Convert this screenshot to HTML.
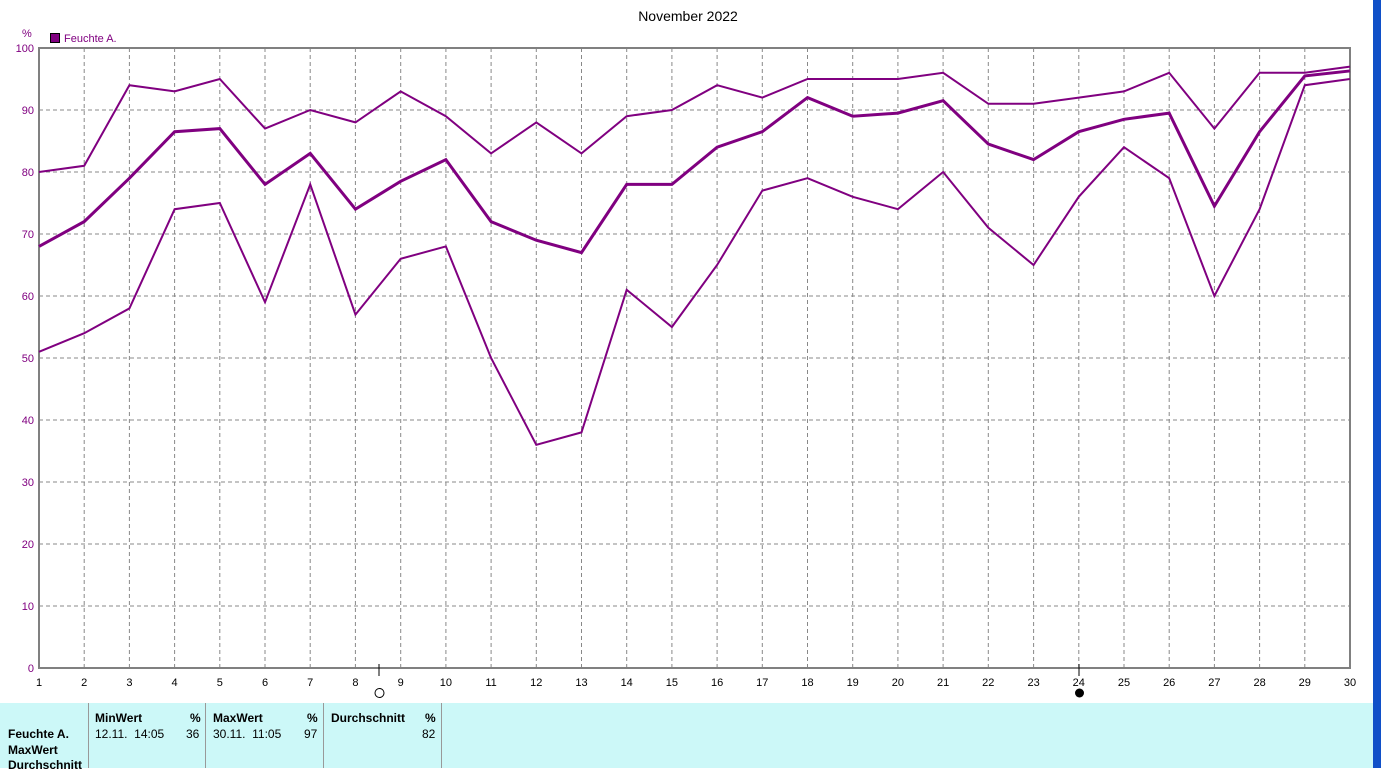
<!DOCTYPE html>
<html><head><style>
body{margin:0;width:1381px;height:768px;background:#fff;overflow:hidden;position:relative;font-family:"Liberation Sans",sans-serif}
.t{position:absolute;font-size:12px;color:#000;white-space:nowrap}
.b{font-weight:bold}
</style></head><body>
<svg width="1381" height="768" style="position:absolute;left:0;top:0" font-family="Liberation Sans" >
<rect x="1373" y="0" width="8" height="768" fill="#1050c8"/>
<text x="688" y="21" font-size="14" text-anchor="middle">November 2022</text>
<text x="22" y="37" font-size="11" fill="#800080">%</text>
<rect x="50.5" y="33.5" width="9" height="9" fill="#800080" stroke="#000"/>
<text x="64" y="42" font-size="11" fill="#800080">Feuchte A.</text>
<g stroke="#888" stroke-dasharray="4,3" stroke-width="1">
<path d="M84.2 48V668M129.4 48V668M174.6 48V668M219.8 48V668M265 48V668M310.2 48V668M355.4 48V668M400.7 48V668M445.9 48V668M491.1 48V668M536.3 48V668M581.5 48V668M626.7 48V668M671.9 48V668M717.1 48V668M762.3 48V668M807.5 48V668M852.7 48V668M897.9 48V668M943.1 48V668M988.3 48V668M1033.6 48V668M1078.8 48V668M1124 48V668M1169.2 48V668M1214.4 48V668M1259.6 48V668M1304.8 48V668"/>
<path d="M39 110H1350M39 172H1350M39 234H1350M39 296H1350M39 358H1350M39 420H1350M39 482H1350M39 544H1350M39 606H1350"/>
</g>
<rect x="39" y="48" width="1311" height="620" fill="none" stroke="#808080" stroke-width="2"/>
<g font-size="11" fill="#800080" text-anchor="end">
<text x="34" y="52">100</text><text x="34" y="114">90</text><text x="34" y="176">80</text><text x="34" y="238">70</text><text x="34" y="300">60</text><text x="34" y="362">50</text><text x="34" y="424">40</text><text x="34" y="486">30</text><text x="34" y="548">20</text><text x="34" y="610">10</text><text x="34" y="672">0</text>
</g>
<g font-size="11" fill="#000" text-anchor="middle">
<text x="39" y="686">1</text><text x="84.2" y="686">2</text><text x="129.4" y="686">3</text><text x="174.6" y="686">4</text><text x="219.8" y="686">5</text><text x="265" y="686">6</text><text x="310.2" y="686">7</text><text x="355.4" y="686">8</text><text x="400.7" y="686">9</text><text x="445.9" y="686">10</text><text x="491.1" y="686">11</text><text x="536.3" y="686">12</text><text x="581.5" y="686">13</text><text x="626.7" y="686">14</text><text x="671.9" y="686">15</text><text x="717.1" y="686">16</text><text x="762.3" y="686">17</text><text x="807.5" y="686">18</text><text x="852.7" y="686">19</text><text x="897.9" y="686">20</text><text x="943.1" y="686">21</text><text x="988.3" y="686">22</text><text x="1033.6" y="686">23</text><text x="1078.8" y="686">24</text><text x="1124" y="686">25</text><text x="1169.2" y="686">26</text><text x="1214.4" y="686">27</text><text x="1259.6" y="686">28</text><text x="1304.8" y="686">29</text><text x="1350" y="686">30</text>
</g>
<path d="M379 664V676M1079 664V676" stroke="#000"/>
<circle cx="379.5" cy="693" r="4.5" fill="none" stroke="#000"/>
<circle cx="1079.5" cy="693" r="4.5" fill="#000"/>
<g transform="translate(39,668) scale(45.207,-6.2)" fill="none" stroke="#800080" vector-effect="non-scaling-stroke">
<polyline vector-effect="non-scaling-stroke" stroke-width="2" points="0,80 1,81 2,94 3,93 4,95 5,87 6,90 7,88 8,93 9,89 10,83 11,88 12,83 13,89 14,90 15,94 16,92 17,95 18,95 19,95 20,96 21,91 22,91 23,92 24,93 25,96 26,87 27,96 28,96 29,97"/>
<polyline vector-effect="non-scaling-stroke" stroke-width="3" points="0,68 1,72 2,79 3,86.5 4,87 5,78 6,83 7,74 8,78.5 9,82 10,72 11,69 12,67 13,78 14,78 15,84 16,86.5 17,92 18,89 19,89.5 20,91.5 21,84.5 22,82 23,86.5 24,88.5 25,89.5 26,74.5 27,86.5 28,95.5 29,96.3"/>
<polyline vector-effect="non-scaling-stroke" stroke-width="2" points="0,51 1,54 2,58 3,74 4,75 5,59 6,78 7,57 8,66 9,68 10,50 11,36 12,38 13,61 14,55 15,65 16,77 17,79 18,76 19,74 20,80 21,71 22,65 23,76 24,84 25,79 26,60 27,74 28,94 29,95"/>
</g>
<rect x="0" y="703" width="1373" height="65" fill="#ccf8f8"/>
<path d="M88.5 703V768M205.5 703V768M323.5 703V768M441.5 703V768" stroke="#999" stroke-width="1"/>
</svg>
<div class="t b" style="left:95px;top:711px">MinWert</div><div class="t b" style="left:190px;top:711px">%</div>
<div class="t" style="left:95px;top:727px">12.11.&nbsp; 14:05</div><div class="t" style="left:186px;top:727px">36</div>
<div class="t b" style="left:213px;top:711px">MaxWert</div><div class="t b" style="left:307px;top:711px">%</div>
<div class="t" style="left:213px;top:727px">30.11.&nbsp; 11:05</div><div class="t" style="left:304px;top:727px">97</div>
<div class="t b" style="left:331px;top:711px">Durchschnitt</div><div class="t b" style="left:425px;top:711px">%</div>
<div class="t" style="left:422px;top:727px">82</div>
<div class="t b" style="left:8px;top:727px">Feuchte A.</div>
<div class="t b" style="left:8px;top:743px">MaxWert</div>
<div class="t b" style="left:8px;top:758px">Durchschnitt</div>
</body></html>
